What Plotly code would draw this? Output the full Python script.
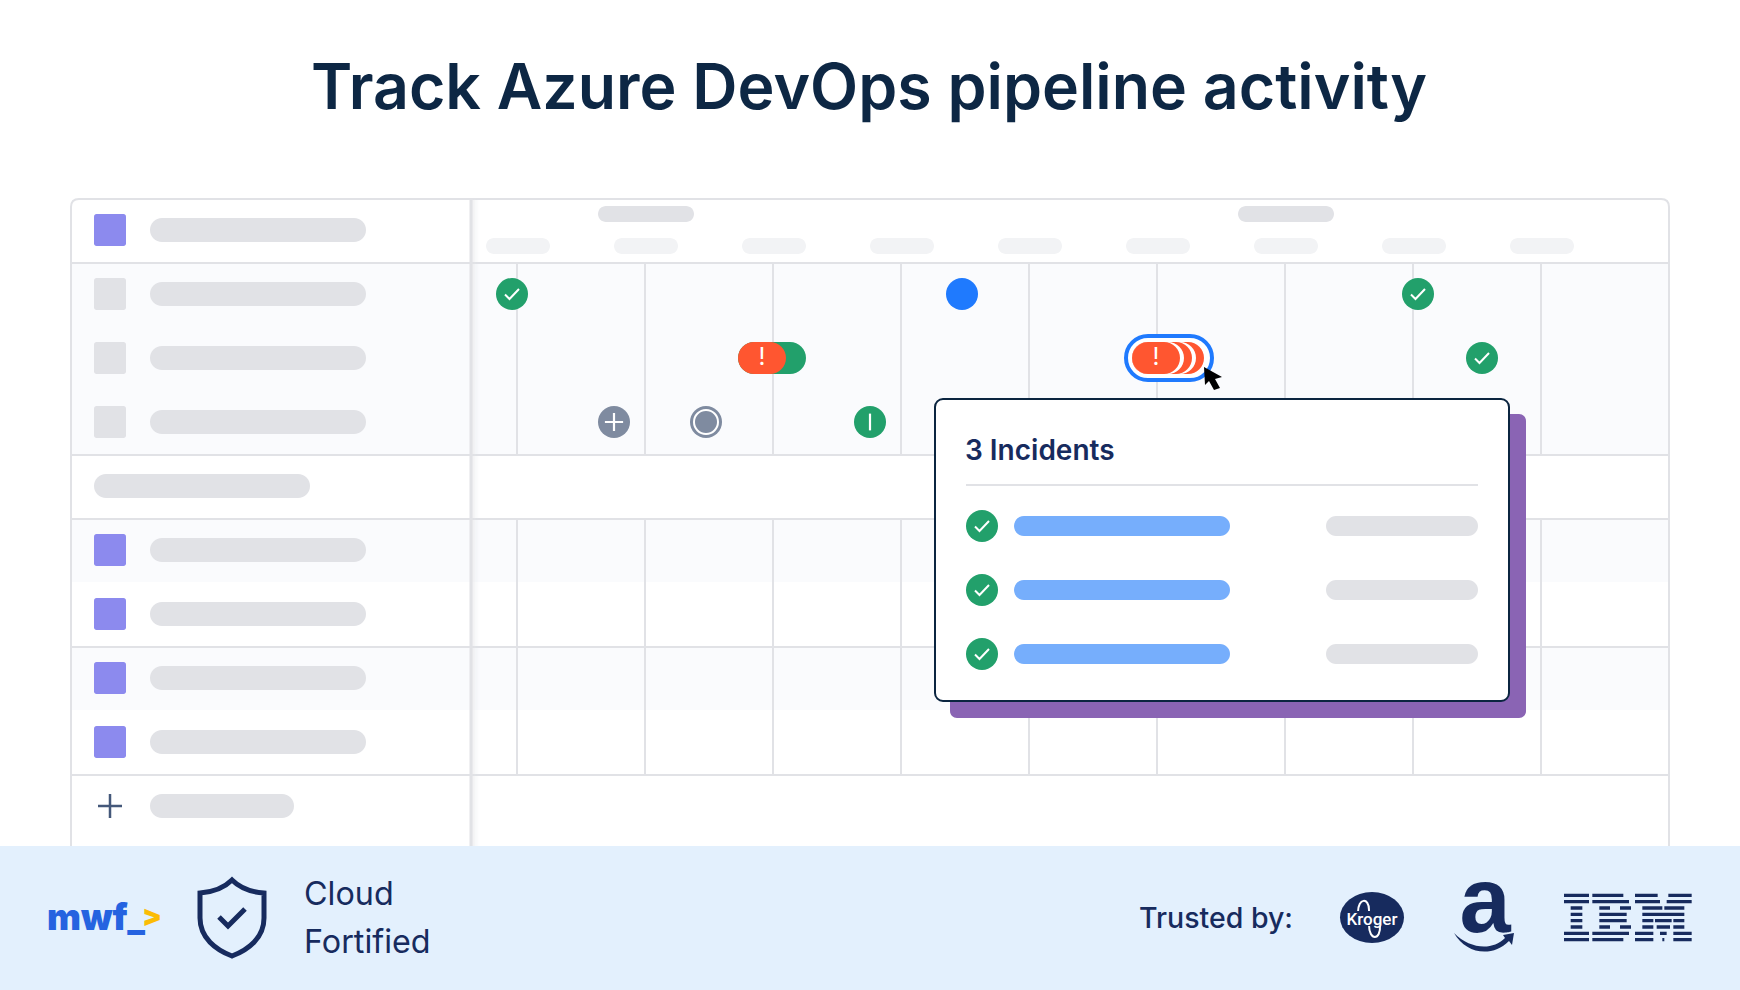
#!/usr/bin/env python3
import plotly.graph_objects as go

# palette
NAVY = '#172b5e'
TITLE = '#0d2744'
GREY = '#e1e2e6'
GREY_LIGHT = '#f2f3f5'
ROW_BG = '#fafbfd'
GREEN = '#22a06b'
ORANGE = '#ff5630'
BLUE = '#1f7afe'
SLATE = '#7f8ba0'
PURPLE = '#8c8aee'
FOOTER = '#e3f0fd'

# sidebar rows
row_y = [230, 294, 358, 422, 486, 550, 614, 678, 742, 806]
square_colors = [PURPLE, GREY, GREY, GREY, None, PURPLE, PURPLE, PURPLE, PURPLE, None]
label_x0 = [150, 150, 150, 150, 94, 150, 150, 150, 150, 150]
label_x1 = [366, 366, 366, 366, 310, 366, 366, 366, 366, 294]

# timeline
month_pill_x = [598, 1238]
day_pill_x = [486, 614, 742, 870, 998, 1126, 1254, 1382, 1510]
grid_x = [517, 645, 773, 901, 1029, 1157, 1285, 1413, 1541]
h_lines = [263, 455, 519, 647, 775]
shaded_bands = [(263, 455), (519, 582), (647, 710)]

# events
check_x = [512, 1418, 1482, 982, 982, 982]
check_y = [294, 294, 358, 526, 590, 654]
blue_x, blue_y = [962], [294]
plus_x, plus_y = [614], [422]
ring_x, ring_y = [706], [422]
bar_x, bar_y = [870], [422]
warn_x, warn_y = [762, 1156], [358, 358]

# popup
popup_rows = [526, 590, 654]
incident_bar = (1014, 1230)
incident_date = (1326, 1478)

# IBM logo stripes, in 1/3 px from the logo corner
ibm_y = [31, 50, 69, 88, 107, 126, 145, 164]
ibm_segments = [
    [(27, 102), (112, 205), (240, 308), (340, 410)],
    [(27, 102), (112, 222), (240, 315), (335, 410)],
    [(47, 82), (133, 165), (195, 228), (262, 322), (328, 388)],
    [(47, 82), (133, 215), (262, 388)],
    [(47, 82), (133, 215), (262, 295), (300, 350), (355, 388)],
    [(47, 82), (133, 165), (195, 228), (262, 295), (305, 345), (355, 388)],
    [(27, 102), (112, 222), (240, 295), (315, 335), (355, 410)],
    [(27, 102), (112, 205), (240, 295), (322, 328), (355, 410)],
]

K = 0.5523


def rr(x0, y0, x1, y1, r):
    c = r * (1 - K)
    return (f'M{x0 + r},{y0} L{x1 - r},{y0} C{x1 - c},{y0} {x1},{y0 + c} {x1},{y0 + r} '
            f'L{x1},{y1 - r} C{x1},{y1 - c} {x1 - c},{y1} {x1 - r},{y1} '
            f'L{x0 + r},{y1} C{x0 + c},{y1} {x0},{y1 - c} {x0},{y1 - r} '
            f'L{x0},{y0 + r} C{x0},{y0 + c} {x0 + c},{y0} {x0 + r},{y0} Z')


shapes = []


def box(x0, y0, x1, y1, color, r=0, line=None, lw=0, layer='below', opacity=1):
    shapes.append(dict(type='path', path=rr(x0, y0, x1, y1, r), fillcolor=color, opacity=opacity,
                       line=dict(color=line or 'rgba(0,0,0,0)', width=lw), layer=layer))


def stroke(path, color, lw, layer='below', fill='rgba(0,0,0,0)'):
    shapes.append(dict(type='path', path=path, fillcolor=fill,
                       line=dict(color=color, width=lw), layer=layer))


def hline(x0, x1, y, color=GREY, lw=2):
    shapes.append(dict(type='line', x0=x0, x1=x1, y0=y, y1=y, layer='below',
                       line=dict(color=color, width=lw)))


def vline(x, y0, y1, color=GREY, lw=2):
    shapes.append(dict(type='line', x0=x, x1=x, y0=y0, y1=y1, layer='below',
                       line=dict(color=color, width=lw)))


for y0, y1 in shaded_bands:
    box(71, y0, 1669, y1, ROW_BG)
for y in h_lines:
    hline(71, 1669, y)
for x in grid_x:
    vline(x, 263, 455)
    vline(x, 519, 775)
stroke('M71,846 L71,207 Q71,199 79,199 L1661,199 Q1669,199 1669,207 L1669,846', GREY, 2)

# sidebar divider with its soft shadow
for i, op in enumerate([0.5, 0.35, 0.22, 0.12, 0.06]):
    box(472 + i * 1.5, 199, 473.5 + i * 1.5, 846, GREY, opacity=op)
vline(471, 199, 846, lw=3)

# sidebar
for y, col, x0, x1 in zip(row_y, square_colors, label_x0, label_x1):
    if col:
        box(94, y - 16, 126, y + 16, col, r=2.5)
    box(x0, y - 12, x1, y + 12, GREY, r=12)
for x in month_pill_x:
    box(x, 206, x + 96, 222, GREY, r=8)
for x in day_pill_x:
    box(x, 238, x + 64, 254, GREY_LIGHT, r=8)
stroke('M110,794 L110,818 M98,806 L122,806', '#44587a', 2.5)

# grouped incident pills
box(738, 342, 806, 374, GREEN, r=16)
box(738, 342, 786, 374, ORANGE, r=16)
box(1126, 336, 1212, 380, '#ffffff', r=22, line=BLUE, lw=4)
box(1132, 342, 1204, 374, ORANGE, r=16)
box(1132, 342, 1196, 374, '#ffffff', r=16)
box(1132, 342, 1192, 374, ORANGE, r=16)
box(1132, 342, 1184, 374, '#ffffff', r=16)
box(1132, 342, 1180, 374, ORANGE, r=16)

# popup
box(950, 414, 1526, 718, '#8a64b4', r=7)
box(935, 399, 1509, 701, '#ffffff', r=8, line='#0b2540', lw=2)
hline(966, 1478, 485)
for y in popup_rows:
    box(incident_bar[0], y - 10, incident_bar[1], y + 10, '#76aefc', r=10)
    box(incident_date[0], y - 10, incident_date[1], y + 10, GREY, r=10)

# footer
box(0, 846, 1740, 990, FOOTER)
stroke('M232,880 C225,887 214,892 200,893 L200,918 C200,938 216,950 232,956 '
       'C248,950 264,938 264,918 L264,893 C250,892 239,887 232,880 Z', NAVY, 5)
stroke('M219,917 L228,926 L245,909', NAVY, 5)

# logos
shapes.append(dict(type='circle', x0=1340, x1=1404, y0=892, y1=943, fillcolor=NAVY,
                   line=dict(width=0), layer='below'))
stroke('M1358,912 C1358,898 1369,897 1369,910 L1369,925 C1369,941 1381,941 1380,925', '#ffffff', 2)
box(1346, 911, 1400, 926, NAVY)
stroke('M1454,933 C1470,949 1492,951 1505,938 L1503,935 L1514,933 L1512,945 L1509,941 '
       'C1492,958 1466,954 1454,933 Z', 'rgba(0,0,0,0)', 0, fill=NAVY)
for y, segs in zip(ibm_y, ibm_segments):
    for a, b in segs:
        box(1555 + a / 3, 885 + (y - 5) / 3, 1555 + b / 3, 885 + (y + 5) / 3, NAVY)

# check glyphs and cursor go over the trace markers
for x, y in zip(check_x, check_y):
    stroke(f'M{x - 7},{y + 0.5} L{x - 2.5},{y + 5} L{x + 7},{y - 5}', '#ffffff', 2, layer='above')
shapes.append(dict(type='path', layer='above', fillcolor='#000000', line=dict(width=0),
                   path='M1204,367 L1222,377 L1215,379 L1220,388 L1214,390 L1209,381 L1205,385 Z'))

fig = go.Figure()


def dots(x, y, color, size=32, symbol='circle', lw=0, lc=None):
    fig.add_trace(go.Scatter(x=x, y=y, mode='markers', hoverinfo='skip', marker=dict(
        color=color, size=size, symbol=symbol, line=dict(width=lw, color=lc or color))))


def label(x, y, text, size, color=NAVY, weight=400, family='Inter', pos='middle right'):
    fig.add_trace(go.Scatter(x=[x], y=[y], mode='text', text=[text], textposition=pos, hoverinfo='skip',
                             textfont=dict(size=size, color=color, weight=weight, family=family)))


dots(check_x, check_y, GREEN)
dots(blue_x, blue_y, BLUE)
dots(plus_x, plus_y, SLATE)
dots(plus_x, plus_y, '#ffffff', size=13, symbol='cross-thin', lw=2.2, lc='#ffffff')
dots(ring_x, ring_y, SLATE)
dots(ring_x, ring_y, SLATE, size=24, lw=2, lc='#ffffff')
dots(bar_x, bar_y, GREEN)
dots(bar_x, bar_y, '#ffffff', size=12, symbol='line-ns', lw=2.2, lc='#ffffff')
for x, y in zip(warn_x, warn_y):
    label(x, y + 1, '!', 24, '#ffffff', pos='middle center')

label(965, 453, '3 Incidents', 28, weight=600)
label(304, 897, 'Cloud', 32.3)
label(304, 945, 'Fortified', 32.3)
label(1139, 921, 'Trusted by:', 28.5, weight=500)
label(47, 921, 'mwf_', 36, '#2563e0', 900)
label(142, 919, '>', 29, '#fbbc05', 900)
label(1372, 921, 'Kroger', 17, '#ffffff', weight=500, family='Roboto', pos='middle center')
label(1485, 909, 'a', 92, NAVY, 700, 'Liberation Sans', pos='middle center')

fig.update_layout(
    width=1740, height=990,
    margin=dict(l=0, r=0, t=0, b=0),
    paper_bgcolor='#ffffff', plot_bgcolor='#ffffff',
    showlegend=False,
    shapes=shapes,
    xaxis=dict(range=[0, 1740], visible=False, fixedrange=True),
    yaxis=dict(range=[990, 0], visible=False, fixedrange=True),
    title=dict(text='Track Azure DevOps pipeline activity', x=869 / 1740, xanchor='center',
               y=1 - 87.5 / 990, yanchor='middle',
               font=dict(family='Inter', size=62.6, color=TITLE, weight=600)),
)
fig.write_html('out.html', config=dict(displayModeBar=False),
               post_script="document.body.style.margin='0';")
